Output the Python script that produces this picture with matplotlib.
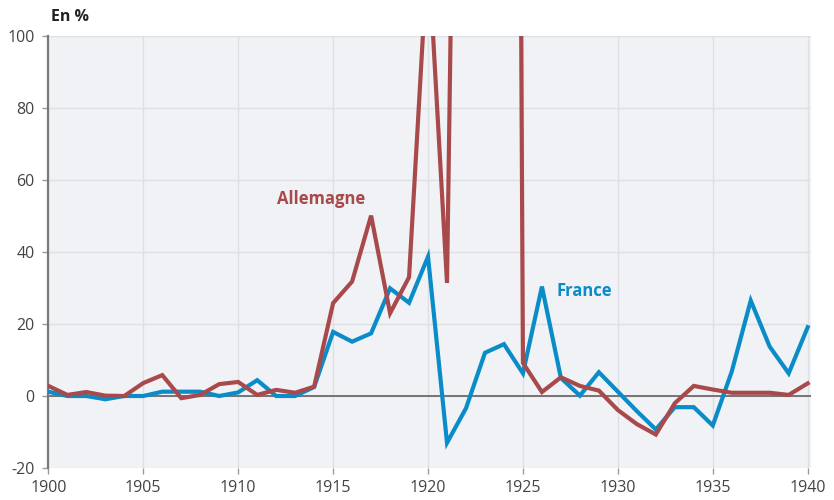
import matplotlib
matplotlib.use('Agg')
import matplotlib.pyplot as plt

# Années
years = list(range(1900, 1941))

# Inflation France (%)
france = [1.2, 0, 0, -0.9, 0, 0, 1.2, 1.2, 1.2, 0, 1.0,
          4.4, 0, 0, 2.5, 17.8, 15.1, 17.4, 29.9, 25.9, 38.7,
          -13.0, -3.4, 12.0, 14.4, 6.3, 30.4, 5.0, 0.1, 6.6, 1.2,
          -4.2, -9.3, -3.1, -3.1, -8.2, 6.8, 26.5, 13.7, 6.3, 19.1]

# Inflation Allemagne (%) -- 1920-1924 dépassent l'échelle
allemagne = [2.8, 0.3, 1.1, 0.1, 0, 3.6, 5.8, -0.6, 0.3, 3.3, 3.9,
             0.3, 1.7, 0.9, 2.6, 25.8, 31.8, 50.1, 23.0, 33.0, 125.0,
             31.4, 400.0, 1000.0, 1000.0, 9.2, 1.1, 5.2, 2.8, 1.5, -3.9,
             -7.8, -10.7, -2.0, 2.8, 1.8, 0.9, 0.9, 0.9, 0.3, 3.5]

xticks = [1900, 1905, 1910, 1915, 1920, 1925, 1930, 1935, 1940]
yticks = [-20, 0, 20, 40, 60, 80, 100]

blue = '#0a8cc8'
red = '#a84a4b'
txt = '#444444'

plt.rcParams['font.family'] = ['Open Sans', 'DejaVu Sans']
plt.rcParams['axes.unicode_minus'] = False

fig = plt.figure(figsize=(8.34, 5.0), dpi=100)
ax = fig.add_axes([0.058, 0.064, 0.915, 0.864])
ax.set_facecolor('#f1f2f5')

ax.plot(years, france, color=blue, lw=3, solid_joinstyle='miter', zorder=3)
ax.plot(years, allemagne, color=red, lw=3, solid_joinstyle='miter', zorder=4)
ax.axhline(0, color='#6b6b6b', lw=1.3, zorder=2)

ax.set_xlim(1900, 1940.2)
ax.set_ylim(-20, 100)
ax.set_xticks(xticks)
ax.set_yticks(yticks)
ax.grid(True, color='#dedfe2', lw=1, zorder=0)
ax.set_axisbelow(True)

for s in ['top', 'right', 'bottom']:
    ax.spines[s].set_visible(False)
ax.spines['left'].set_color('#7a7a7a')
ax.spines['left'].set_linewidth(1.6)

ax.tick_params(axis='both', colors='#9a9a9a', labelcolor=txt, labelsize=11.5,
               length=4, width=1)
ax.tick_params(axis='y', pad=6)
ax.tick_params(axis='x', pad=5)

fig.text(0.061, 0.966, 'En %', fontsize=11.5, fontweight='bold', color='#222222',
         ha='left', va='center')
ax.text(1916.67, 54.8, 'Allemagne', color=red, fontsize=12, fontweight='bold',
        ha='right', va='center')
ax.text(1926.75, 29.2, 'France', color=blue, fontsize=12, fontweight='bold',
        ha='left', va='center')

fig.savefig('out.png', dpi=100)
